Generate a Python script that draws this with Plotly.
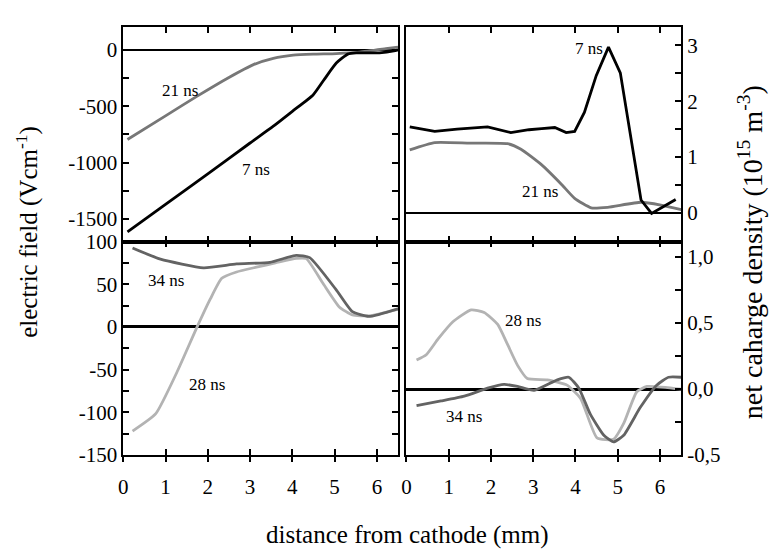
import plotly.graph_objects as go

# ---- data ----
# top-left: electric field (V/cm)
tl_x_7 = [0.1, 1.0, 2.0, 3.0, 3.55, 4.0, 4.49, 4.76, 5.04, 5.31, 5.51, 6.06, 6.4, 6.5]
tl_y_7 = [-1614, -1370, -1099, -826, -677, -545, -400, -259, -117, -38, -27, -27, -10, 0]
tl_x_21 = [0.1, 1.0, 1.74, 2.5, 3.08, 3.55, 4.02, 4.5, 5.04, 5.6, 6.21, 6.5]
tl_y_21 = [-795, -585, -413, -245, -131, -75, -47, -38, -33, -20, 10, 25]

# top-right: net charge density (1e15 m^-3)
tr_x_7 = [0.08, 0.67, 1.2, 1.92, 2.47, 2.9, 3.2, 3.51, 3.78, 3.98, 4.21, 4.49, 4.78, 5.06, 5.55, 5.8, 6.37]
tr_y_7 = [1.54, 1.46, 1.50, 1.54, 1.44, 1.49, 1.51, 1.53, 1.44, 1.46, 1.80, 2.46, 2.97, 2.51, 0.23, -0.01, 0.24]
tr_x_21 = [0.08, 0.67, 1.5, 2.39, 2.71, 3.2, 3.67, 3.98, 4.37, 4.76, 5.55, 6.02, 6.5]
tr_y_21 = [1.13, 1.26, 1.25, 1.24, 1.14, 0.86, 0.51, 0.26, 0.09, 0.10, 0.19, 0.14, 0.06]

# bottom-left: electric field (V/cm)
bl_x_34 = [0.22, 0.88, 1.9, 2.68, 3.47, 4.09, 4.41, 5.03, 5.42, 5.81, 6.52]
bl_y_34 = [92.4, 79.4, 69.3, 73.8, 75.6, 83.9, 81.2, 44.0, 17.9, 12.3, 21.6]
bl_x_28 = [0.22, 0.77, 1.27, 1.74, 2.06, 2.33, 2.68, 3.15, 3.6, 4.09, 4.33, 4.72, 5.11, 5.42, 5.81, 6.52]
bl_y_28 = [-121.9, -101.5, -53, -0.8, 32.8, 57, 64.4, 70, 75, 80.3, 80, 51.4, 23.5, 14, 13, 21]

# bottom-right: net charge density (1e15 m^-3)
br_x_28 = [0.24, 0.47, 0.75, 1.1, 1.53, 1.84, 2.16, 2.39, 2.63, 2.86, 3.33, 3.8, 4.12, 4.51, 4.9, 5.14, 5.45, 5.69, 6.5]
br_y_28 = [0.22, 0.26, 0.38, 0.51, 0.60, 0.58, 0.49, 0.34, 0.18, 0.08, 0.07, 0.03, -0.07, -0.37, -0.38, -0.26, -0.02, 0.02, 0.0]
br_x_34 = [0.24, 0.82, 1.37, 1.92, 2.31, 2.63, 3.02, 3.57, 3.84, 4.08, 4.35, 4.67, 4.9, 5.14, 5.53, 5.92, 6.2, 6.5]
br_y_34 = [-0.126, -0.09, -0.053, 0.007, 0.036, 0.02, -0.01, 0.07, 0.09, 0.007, -0.19, -0.35, -0.40, -0.35, -0.14, 0.03, 0.09, 0.09]

x_ticks = [0, 1, 2, 3, 4, 5, 6]
tl_ticks = [-1500, -1250, -1000, -750, -500, -250, 0]
tl_text = ["-1500", "", "-1000", "", "-500", "", "0"]
tr_ticks = [0, 0.5, 1, 1.5, 2, 2.5, 3]
tr_text = ["0", "", "1", "", "2", "", "3"]
bl_ticks = [-150, -125, -100, -75, -50, -25, 0, 25, 50, 75, 100]
bl_text = ["-150", "", "-100", "", "-50", "", "0", "", "50", "", "100"]
br_ticks = [-0.5, -0.25, 0, 0.25, 0.5, 0.75, 1.0]
br_text = ["-0,5", "", "0,0", "", "0,5", "", "1,0"]

C7 = "#000000"
C21 = "#777777"
C28 = "#b3b3b3"
C34 = "#636363"
LW = 2.8
FONT = "Liberation Serif"

fig = go.Figure()
def line(x, y, c, xa, ya, name, shape="spline"):
    ln = dict(color=c, width=LW, shape=shape)
    if shape == "spline":
        ln["smoothing"] = 0.5
    fig.add_trace(go.Scatter(x=x, y=y, mode="lines", line=ln,
                             xaxis=xa, yaxis=ya, name=name, showlegend=False, hoverinfo="skip"))

line(tl_x_21, tl_y_21, C21, "x", "y", "21 ns")
line(tl_x_7, tl_y_7, C7, "x", "y", "7 ns")
line(tr_x_21, tr_y_21, C21, "x2", "y2", "21 ns")
line(tr_x_7, tr_y_7, C7, "x2", "y2", "7 ns", "linear")
line(bl_x_28, bl_y_28, C28, "x3", "y3", "28 ns")
line(bl_x_34, bl_y_34, C34, "x3", "y3", "34 ns")
line(br_x_28, br_y_28, C28, "x4", "y4", "28 ns")
line(br_x_34, br_y_34, C34, "x4", "y4", "34 ns")
# empty traces to register overlay axes (outside bottom ticks)
fig.add_trace(go.Scatter(x=[], y=[], xaxis="x5", yaxis="y3", showlegend=False))
fig.add_trace(go.Scatter(x=[], y=[], xaxis="x6", yaxis="y4", showlegend=False))

XL = [0.15415, 0.51244]
XR = [0.52332, 0.88161]
YT = [0.56443, 0.97096]
YB = [0.15917, 0.56443]
tickfont = dict(family=FONT, size=21, color="black")

def xax(dom, anchor, labels):
    d = dict(domain=dom, anchor=anchor, range=[0, 6.5], tickvals=x_ticks, ticks="inside",
             ticklen=6, tickwidth=1.5, tickcolor="black", showline=True, linecolor="black",
             linewidth=1.5, mirror="ticks", showgrid=False, zeroline=False,
             showticklabels=labels, tickfont=tickfont)
    if labels:
        d["ticklabelstandoff"] = 12
    return d

def yax(dom, anchor, rng, tv, tt, side, zw, mirror):
    return dict(domain=dom, anchor=anchor, range=rng, tickvals=tv, ticktext=tt, ticks="inside",
                ticklen=6, tickwidth=1.5, tickcolor="black", showline=True, linecolor="black",
                linewidth=1.5, mirror=mirror, showgrid=False, zeroline=True, zerolinecolor="black",
                zerolinewidth=zw, side=side, tickfont=tickfont)

fig.update_layout(
    width=772, height=551, margin=dict(l=0, r=0, t=0, b=0),
    paper_bgcolor="white", plot_bgcolor="white",
    font=dict(family=FONT, color="black"),
    xaxis=xax(XL, "y", False),
    xaxis2=xax(XR, "y2", False),
    xaxis3=xax(XL, "y3", True),
    xaxis4=xax(XR, "y4", True),
    xaxis5=dict(overlaying="x3", anchor="y3", range=[0, 6.5], tickvals=x_ticks, ticks="outside",
                ticklen=6, tickwidth=1.5, tickcolor="black", showline=False, showgrid=False,
                zeroline=False, showticklabels=False),
    xaxis6=dict(overlaying="x4", anchor="y4", range=[0, 6.5], tickvals=x_ticks, ticks="outside",
                ticklen=6, tickwidth=1.5, tickcolor="black", showline=False, showgrid=False,
                zeroline=False, showticklabels=False),
    yaxis=yax(YT, "x", [-1700, 200], tl_ticks, tl_text, "left", 1.5, "ticks"),
    yaxis2=yax(YT, "x2", [-0.514, 3.326], tr_ticks, tr_text, "right", 1.5, True),
    yaxis3=yax(YB, "x3", [-150, 100], bl_ticks, bl_text, "left", 2.5, "ticks"),
    yaxis4=yax(YB, "x4", [-0.5, 1.118], br_ticks, br_text, "right", 2.5, True),
)

afont = dict(family=FONT, size=17, color="black")
labels = [
    ("x", "y", 1.34, -360, "21 ns"),
    ("x", "y", 3.15, -1064, "7 ns"),
    ("x2", "y2", 4.32, 2.95, "7 ns"),
    ("x2", "y2", 3.17, 0.39, "21 ns"),
    ("x3", "y3", 1.01, 54, "34 ns"),
    ("x3", "y3", 1.97, -67, "28 ns"),
    ("x4", "y4", 2.75, 0.52, "28 ns"),
    ("x4", "y4", 1.36, -0.21, "34 ns"),
]
for xr, yr, x, y, t in labels:
    fig.add_annotation(xref=xr, yref=yr, x=x, y=y, text=t, showarrow=False, font=afont)

fig.add_annotation(xref="paper", yref="paper", x=0.0298, y=0.5826, xanchor="center", yanchor="middle",
                   text="electric field (Vcm<sup>-1</sup>)",
                   textangle=-90, showarrow=False, font=dict(family=FONT, size=25, color="black"))
fig.add_annotation(xref="paper", yref="paper", x=0.9715, y=0.5445, xanchor="center", yanchor="middle",
                   text="net caharge density (10<sup>15</sup> m<sup>-3</sup>)",
                   textangle=-90, showarrow=False, font=dict(family=FONT, size=28, color="black"))
fig.add_annotation(xref="paper", yref="paper", x=0.5246, y=0.007, xanchor="center", yanchor="middle",
                   text="distance from cathode (mm)",
                   showarrow=False, font=dict(family=FONT, size=25, color="black"))

fig.write_html("out.html")
